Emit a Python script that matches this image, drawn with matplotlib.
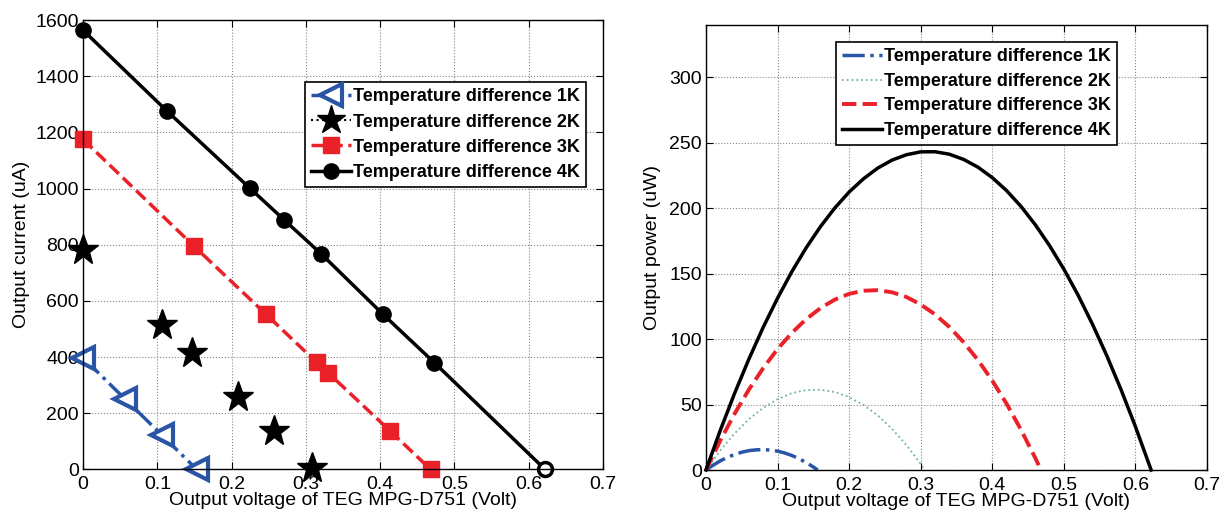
import matplotlib.pyplot as plt
import numpy as np
from matplotlib.lines import Line2D

plt.rcParams['font.family'] = ['Liberation Sans', 'DejaVu Sans']

labels = ['Temperature difference 1K', 'Temperature difference 2K',
          'Temperature difference 3K', 'Temperature difference 4K']

# measured I-V points (Volt, uA)
v1 = [0, 0.056, 0.106, 0.153]
i1 = [398, 252, 123, 0]
v2 = [0, 0.1056, 0.1467, 0.2085, 0.2564, 0.3083]
i2 = [781, 514, 413, 259, 137, 4]
v3 = [0, 0.149, 0.2466, 0.3145, 0.330, 0.4134, 0.468]
i3 = [1175, 796, 552, 381, 344, 137, 0]
v4 = [0, 0.1127, 0.2248, 0.271, 0.320, 0.404, 0.473, 0.622]
i4 = [1564, 1277, 1001, 888, 769, 552, 380, 0]

# power curves (Volt, uW)
pv1 = [0, 0.01, 0.02, 0.03, 0.04, 0.05, 0.06, 0.07, 0.08, 0.09, 0.10,
       0.11, 0.12, 0.13, 0.14, 0.15, 0.156]
pp1 = [0, 3.7, 7.0, 9.7, 11.9, 13.6, 14.8, 15.4, 15.6, 15.2, 14.4,
       13.0, 11.1, 8.7, 5.7, 2.3, 0]
pv2 = [0, 0.02, 0.04, 0.06, 0.08, 0.10, 0.12, 0.14, 0.16, 0.18, 0.20,
       0.22, 0.24, 0.26, 0.28, 0.30, 0.306]
pp2 = [0, 15.0, 27.9, 38.8, 47.5, 54.1, 58.7, 61.1, 61.3, 59.6, 55.7,
       49.7, 41.7, 31.4, 19.1, 4.7, 0]
pv3 = [0, 0.02, 0.04, 0.06, 0.08, 0.10, 0.12, 0.14, 0.16, 0.18, 0.20,
       0.22, 0.24, 0.26, 0.28, 0.30, 0.32, 0.34, 0.36, 0.38, 0.40,
       0.42, 0.44, 0.46, 0.468]
pp3 = [0, 22.5, 43.0, 61.5, 77.9, 92.4, 104.8, 115.3, 123.7, 130.2, 134.6,
       137.0, 137.4, 135.8, 132.2, 126.5, 118.9, 109.3, 97.6, 84.0, 68.3,
       50.6, 30.9, 9.3, 0]
pv4 = [0, 0.02, 0.04, 0.06, 0.08, 0.10, 0.12, 0.14, 0.16, 0.18, 0.20,
       0.22, 0.24, 0.26, 0.28, 0.30, 0.32, 0.34, 0.36, 0.38, 0.40,
       0.42, 0.44, 0.46, 0.48, 0.50, 0.52, 0.54, 0.56, 0.58, 0.60,
       0.62, 0.622]
pp4 = [0, 30.3, 58.6, 84.8, 109.1, 131.3, 151.6, 169.8, 186.0, 200.2, 212.4,
       222.5, 230.7, 236.8, 240.9, 243.1, 243.2, 241.3, 237.3, 231.4, 223.4,
       213.5, 201.5, 187.5, 171.5, 153.5, 133.5, 111.4, 87.4, 61.3, 33.2,
       3.0, 0]

blue = '#2a55a6'
green = '#6fb596'
red = '#ea2128'

fig = plt.figure(figsize=(12.25, 5.13), dpi=100)
ax1 = fig.add_axes([0.0678, 0.0848, 0.4245, 0.876])
ax2 = fig.add_axes([0.5763, 0.0838, 0.409, 0.8674])

# left: current vs voltage
ax1.plot(v1, i1, color=blue, ls='-.', lw=2.5, marker='<', ms=16,
         mfc='white', mec=blue, mew=3)
ax1.plot(v2, i2, ls='none', marker='*', ms=23, color='black')
ax1.plot(v3, i3, color=red, ls='--', lw=2.5, marker='s', ms=11,
         mfc=red, mec=red)
ax1.plot(v4, i4, color='black', ls='-', lw=2.5, marker='o', ms=11,
         markevery=slice(0, len(v4) - 1))
ax1.plot(v4[-1:], i4[-1:], ls='none', marker='o', ms=10, mfc='white',
         mec='black', mew=2.5)

handles1 = [
    Line2D([], [], color=blue, ls='-.', lw=2.5, marker='<', ms=16,
           mfc='white', mec=blue, mew=3),
    Line2D([], [], color='black', ls=':', lw=1.5, marker='*', ms=21),
    Line2D([], [], color=red, ls='--', lw=2.5, marker='s', ms=11),
    Line2D([], [], color='black', ls='-', lw=2.5, marker='o', ms=11),
]

ticklabels = ['0', '0.1', '0.2', '0.3', '0.4', '0.5', '0.6', '0.7']

ax1.set_xlim(0, 0.7)
ax1.set_ylim(0, 1600)
ax1.set_xticks(np.arange(0, 0.71, 0.1))
ax1.set_xticklabels(ticklabels)
ax1.set_yticks(np.arange(0, 1601, 200))
ax1.set_xlabel('Output voltage of TEG MPG-D751 (Volt)', fontsize=14, labelpad=-1)
ax1.set_ylabel('Output current (uA)', fontsize=14, labelpad=4)

leg1 = ax1.legend(handles1, labels, loc='upper left',
                  bbox_to_anchor=(0.427, 0.862),
                  prop={'weight': 'bold', 'size': 13},
                  handlelength=2.2, handletextpad=0.1, labelspacing=0.45,
                  borderpad=0.35, borderaxespad=0, fancybox=False,
                  edgecolor='black', framealpha=1)
leg1.get_frame().set_linewidth(1.2)

# right: power vs voltage
ax2.plot(pv1, pp1, color=blue, ls='-.', lw=2.5, label=labels[0])
ax2.plot(pv2, pp2, color=green, ls=':', lw=1.3, label=labels[1])
ax2.plot(pv3, pp3, color=red, ls='--', lw=2.8, label=labels[2])
ax2.plot(pv4, pp4, color='black', ls='-', lw=2.5, label=labels[3])

ax2.set_xlim(0, 0.7)
ax2.set_ylim(0, 340)
ax2.set_xticks(np.arange(0, 0.71, 0.1))
ax2.set_xticklabels(ticklabels)
ax2.set_yticks(np.arange(0, 301, 50))
ax2.set_xlabel('Output voltage of TEG MPG-D751 (Volt)', fontsize=14, labelpad=-1)
ax2.set_ylabel('Output power (uW)', fontsize=14, labelpad=6)

leg2 = ax2.legend(loc='upper left', bbox_to_anchor=(0.259, 0.962),
                  prop={'weight': 'bold', 'size': 13},
                  handlelength=2.2, handletextpad=0.1, labelspacing=0.42,
                  borderpad=0.35, borderaxespad=0, fancybox=False,
                  edgecolor='black', framealpha=1)
leg2.get_frame().set_linewidth(1.2)

for ax in (ax1, ax2):
    ax.grid(True, ls=':', color='#888888', lw=0.8)
    ax.set_axisbelow(True)
    ax.tick_params(direction='in', top=True, right=True, labelsize=14,
                   length=5)
    ax.tick_params(axis='x', pad=5)
    ax.tick_params(axis='y', pad=3)
    for s in ax.spines.values():
        s.set_linewidth(1.0)
    for m in ax.lines:
        m.set_clip_on(False)

fig.savefig('out.png', dpi=100)
